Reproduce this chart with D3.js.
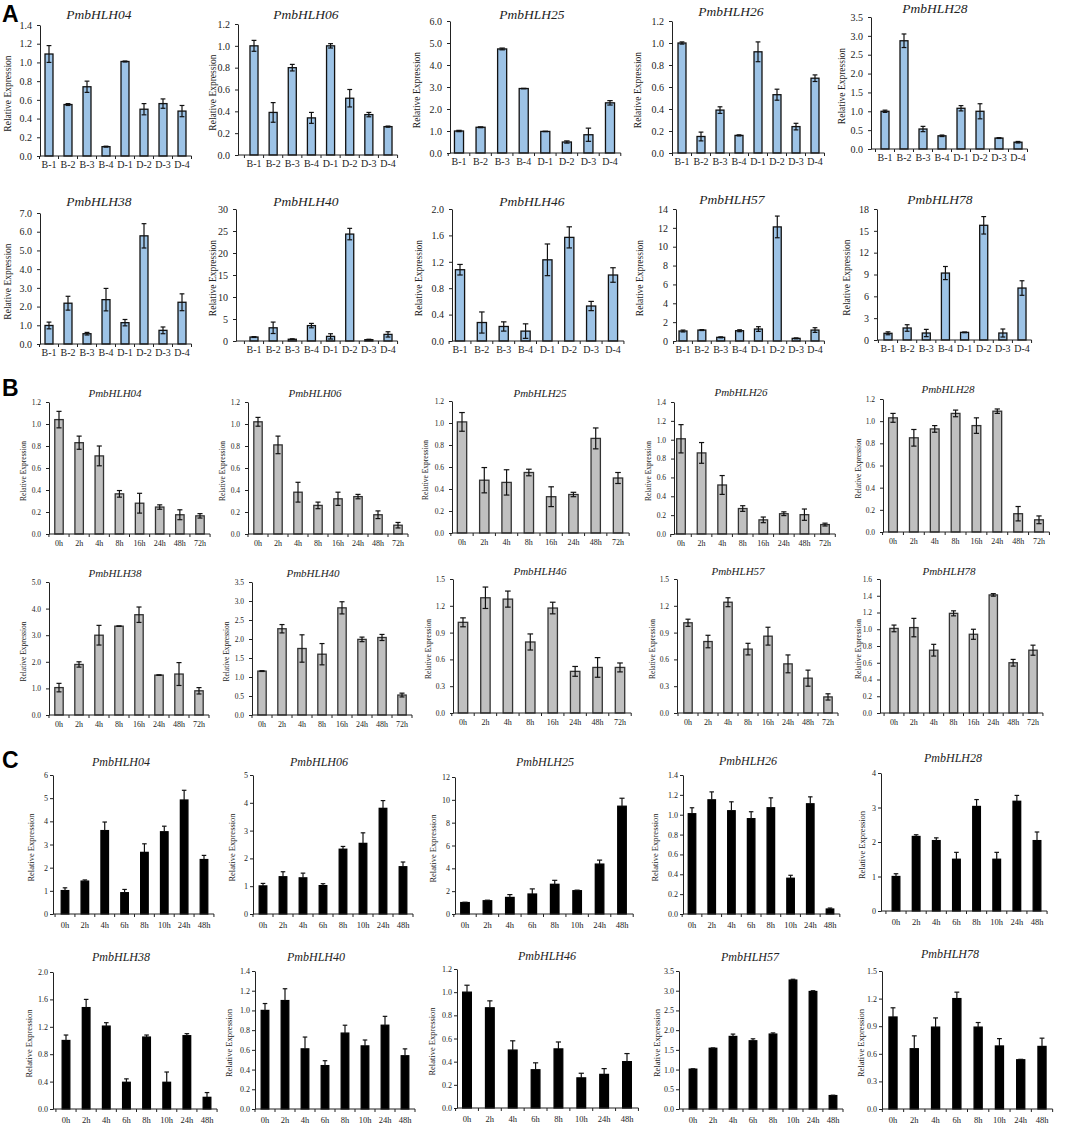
<!DOCTYPE html>
<html lang="en">
<head>
<meta charset="UTF-8">
<title>PmbHLH relative expression</title>
<script src="https://d3js.org/d3.v7.min.js"></script>
<style>
  body { margin: 0; background: #fff; }
  text { font-family: "Liberation Serif", "Times New Roman", "DejaVu Serif", serif; fill: #222; }
</style>
</head>
<body>
<script>
// ---- data ----
const genes = ["PmbHLH04", "PmbHLH06", "PmbHLH25", "PmbHLH26", "PmbHLH28",
               "PmbHLH38", "PmbHLH40", "PmbHLH46", "PmbHLH57", "PmbHLH78"];

const catA = ["B-1", "B-2", "B-3", "B-4", "D-1", "D-2", "D-3", "D-4"];
const catB = ["0h", "2h", "4h", "8h", "16h", "24h", "48h", "72h"];
const catC = ["0h", "2h", "4h", "6h", "8h", "10h", "24h", "48h"];

const valuesA = [
  [1.09, 0.55, 0.74, 0.10, 1.01, 0.50, 0.56, 0.48],
  [1.00, 0.39, 0.80, 0.34, 1.00, 0.52, 0.37, 0.26],
  [1.00, 1.17, 4.73, 2.93, 0.98, 0.50, 0.83, 2.28],
  [1.00, 0.15, 0.39, 0.16, 0.92, 0.53, 0.24, 0.68],
  [1.00, 2.87, 0.53, 0.35, 1.08, 1.00, 0.29, 0.18],
  [0.99, 2.18, 0.55, 2.37, 1.14, 5.78, 0.73, 2.23],
  [0.90, 3.00, 0.40, 3.50, 1.05, 24.3, 0.30, 1.50],
  [1.08, 0.28, 0.22, 0.15, 1.23, 1.57, 0.53, 1.00],
  [1.06, 1.16, 0.39, 1.09, 1.27, 12.1, 0.28, 1.16],
  [0.92, 1.65, 0.96, 9.20, 1.05, 15.76, 0.96, 7.14]
];
const errorsA = [
  [0.09, 0.01, 0.06, 0.005, 0.005, 0.06, 0.05, 0.06],
  [0.05, 0.09, 0.03, 0.05, 0.02, 0.08, 0.02, 0.005],
  [0.03, 0.02, 0.04, 0.01, 0.01, 0.05, 0.30, 0.10],
  [0.01, 0.04, 0.03, 0.005, 0.09, 0.05, 0.03, 0.03],
  [0.03, 0.18, 0.07, 0.02, 0.07, 0.20, 0.01, 0.02],
  [0.18, 0.37, 0.07, 0.60, 0.17, 0.65, 0.18, 0.45],
  [0.10, 1.30, 0.10, 0.50, 0.60, 1.30, 0.10, 0.60],
  [0.08, 0.16, 0.07, 0.11, 0.24, 0.16, 0.07, 0.11],
  [0.10, 0.05, 0.05, 0.10, 0.25, 1.15, 0.05, 0.25],
  [0.20, 0.45, 0.50, 0.90, 0.05, 1.20, 0.55, 1.00]
];
const yMaxA = [1.4, 1.2, 6, 1.2, 3.5, 7, 30, 2, 14, 18];
const yStepA = [0.2, 0.2, 1, 0.2, 0.5, 1, 5, 0.4, 2, 3];
const decA = [1, 1, 1, 1, 1, 1, 0, 1, 0, 0];

const valuesB = [
  [1.04, 0.83, 0.71, 0.365, 0.28, 0.245, 0.175, 0.165],
  [1.02, 0.81, 0.38, 0.26, 0.32, 0.34, 0.175, 0.08],
  [1.01, 0.48, 0.46, 0.55, 0.33, 0.35, 0.86, 0.50],
  [1.01, 0.86, 0.52, 0.27, 0.15, 0.215, 0.205, 0.10],
  [1.03, 0.85, 0.93, 1.07, 0.96, 1.09, 0.165, 0.11],
  [1.03, 1.90, 3.00, 3.34, 3.77, 1.50, 1.54, 0.91],
  [1.155, 2.27, 1.75, 1.60, 2.82, 1.99, 2.04, 0.525],
  [1.015, 1.29, 1.275, 0.795, 1.175, 0.466, 0.51, 0.51],
  [1.01, 0.80, 1.24, 0.715, 0.86, 0.55, 0.39, 0.18],
  [1.01, 1.02, 0.75, 1.19, 0.94, 1.41, 0.60, 0.75]
];
const errorsB = [
  [0.075, 0.06, 0.09, 0.03, 0.09, 0.02, 0.045, 0.02],
  [0.04, 0.08, 0.09, 0.03, 0.06, 0.02, 0.035, 0.025],
  [0.085, 0.115, 0.115, 0.03, 0.09, 0.02, 0.095, 0.05],
  [0.15, 0.11, 0.10, 0.03, 0.03, 0.02, 0.06, 0.015],
  [0.04, 0.075, 0.03, 0.03, 0.07, 0.02, 0.065, 0.035],
  [0.16, 0.10, 0.37, 0.01, 0.29, 0.01, 0.43, 0.12],
  [0.01, 0.11, 0.36, 0.28, 0.16, 0.06, 0.08, 0.05],
  [0.05, 0.12, 0.09, 0.09, 0.065, 0.055, 0.11, 0.05],
  [0.04, 0.07, 0.05, 0.065, 0.10, 0.10, 0.09, 0.035],
  [0.04, 0.11, 0.07, 0.03, 0.06, 0.015, 0.04, 0.06]
];
const yMaxB = [1.2, 1.2, 1.2, 1.4, 1.2, 5, 3.5, 1.5, 1.5, 1.6];
const yStepB = [0.2, 0.2, 0.2, 0.2, 0.2, 1, 0.5, 0.3, 0.3, 0.2];
const decB = [1, 1, 1, 1, 1, 1, 1, 1, 1, 1];

const valuesC = [
  [1.01, 1.42, 3.60, 0.92, 2.66, 3.55, 4.92, 2.35],
  [1.01, 1.34, 1.30, 1.02, 2.33, 2.54, 3.80, 1.70],
  [1.00, 1.16, 1.45, 1.75, 2.60, 2.04, 4.37, 9.44],
  [1.01, 1.15, 1.04, 0.96, 1.07, 0.36, 1.11, 0.05],
  [1.00, 2.16, 2.04, 1.50, 3.03, 1.50, 3.18, 2.04],
  [1.00, 1.48, 1.21, 0.39, 1.05, 0.39, 1.07, 0.17],
  [1.00, 1.10, 0.61, 0.44, 0.77, 0.64, 0.85, 0.54],
  [1.00, 0.865, 0.50, 0.33, 0.51, 0.26, 0.29, 0.40],
  [1.01, 1.54, 1.84, 1.73, 1.90, 3.27, 2.98, 0.34],
  [1.00, 0.655, 0.89, 1.20, 0.89, 0.685, 0.535, 0.68]
];
const errorsC = [
  [0.12, 0.05, 0.37, 0.14, 0.37, 0.24, 0.42, 0.18],
  [0.09, 0.18, 0.17, 0.07, 0.10, 0.38, 0.28, 0.17],
  [0.03, 0.05, 0.25, 0.45, 0.35, 0.05, 0.35, 0.70],
  [0.06, 0.08, 0.09, 0.07, 0.10, 0.03, 0.07, 0.01],
  [0.08, 0.05, 0.08, 0.20, 0.20, 0.20, 0.17, 0.25],
  [0.08, 0.12, 0.05, 0.05, 0.03, 0.15, 0.03, 0.07],
  [0.07, 0.12, 0.12, 0.05, 0.08, 0.06, 0.09, 0.07],
  [0.06, 0.06, 0.08, 0.06, 0.06, 0.04, 0.05, 0.07],
  [0.01, 0.01, 0.06, 0.05, 0.03, 0.02, 0.02, 0.01],
  [0.10, 0.14, 0.10, 0.07, 0.05, 0.08, 0.005, 0.09]
];
const yMaxC = [6, 5, 12, 1.4, 4, 2, 1.4, 1.2, 3.5, 1.5];
const yStepC = [1, 1, 2, 0.2, 1, 0.4, 0.2, 0.2, 0.5, 0.3];
const decC = [0, 0, 0, 1, 0, 1, 1, 1, 1, 1];

// ---- layout: [axisX, firstCatX, lastCatX, yTop, yZero, titleX, titleY, yLabelX] ----
const frameA = [
  [40, 49, 182, 25, 156, 99, 19, 8],
  [238, 254, 388, 24, 155, 306, 19, 213],
  [450, 459, 610, 21, 153, 532, 19, 417],
  [672, 682, 815, 21, 153, 731, 16, 638],
  [871, 885, 1018, 17, 149, 935, 13, 842],
  [40, 49, 182, 213, 344, 99, 206, 8],
  [236, 254, 388, 209, 341, 306, 206, 213],
  [452, 460, 613, 209, 341, 532, 206, 419],
  [676, 683, 815, 209, 341, 732, 204, 640],
  [877, 888, 1022, 209, 340, 940, 204, 847]
];
const frameB = [
  [49, 59, 200, 402, 534, 115, 397, 23],
  [248, 258, 398, 402, 534, 315, 397, 222],
  [452, 462, 618, 401, 533, 540, 397, 425],
  [674, 681, 825, 402, 534, 741, 396, 648],
  [883, 893, 1039, 399, 532, 948, 393, 858],
  [49, 59, 199, 582, 715, 115, 577, 23],
  [252, 262, 402, 582, 715, 313, 577, 226],
  [453, 463, 620, 579, 713, 540, 575, 428],
  [677, 688, 828, 579, 713, 738, 575, 652],
  [880, 894, 1033, 579, 713, 949, 575, 858]
];
const frameC = [
  [53, 65, 204, 775, 914, 121, 766, 31],
  [253, 263, 403, 775, 914, 319, 766, 232],
  [455, 465, 622, 777, 914, 545, 766, 433],
  [683, 692, 830, 775, 914, 748, 765, 655],
  [881, 896, 1037, 773, 911, 953, 762, 862],
  [53, 66, 207, 972, 1109, 121, 961, 29],
  [255, 265, 405, 971, 1109, 316, 961, 229],
  [457, 467, 627, 969, 1108, 547, 960, 432],
  [679, 693, 833, 971, 1109, 750, 961, 657],
  [882, 893, 1042, 971, 1109, 950, 958, 861]
];

const sections = [
  { letter: "A", ly: 22, cats: catA, values: valuesA, errors: errorsA, yMax: yMaxA, yStep: yStepA, dec: decA, frames: frameA,
    fill: "#9dc3e6", stroke: "#111", barW: 0.42, both: true, tickFont: 10, xFont: 10, titleFont: 13.5, labFont: 9.5, xLabDy: 12, pad: 5 },
  { letter: "B", ly: 396, cats: catB, values: valuesB, errors: errorsB, yMax: yMaxB, yStep: yStepB, dec: decB, frames: frameB,
    fill: "#c0c0c0", stroke: "#333", barW: 0.42, both: true, tickFont: 7.5, xFont: 8, titleFont: 11, labFont: 7.5, xLabDy: 12, pad: 5 },
  { letter: "C", ly: 768, cats: catC, values: valuesC, errors: errorsC, yMax: yMaxC, yStep: yStepC, dec: decC, frames: frameC,
    fill: "#000", stroke: "#000", barW: 0.38, both: false, tickFont: 8, xFont: 8.5, titleFont: 12, labFont: 8.5, xLabDy: 14, pad: 2 }
];

const svg = d3.select("body").append("svg")
  .attr("width", 1072)
  .attr("height", 1124);

svg.append("rect").attr("width", 1072).attr("height", 1124).attr("fill", "#fff");

sections.forEach(sec => {
  svg.append("text")
    .attr("x", 2).attr("y", sec.ly)
    .style("font-family", "'Liberation Sans', Arial, sans-serif")
    .style("font-weight", "bold")
    .style("font-size", "23px")
    .style("fill", "#000")
    .text(sec.letter);

  genes.forEach((gene, i) => {
    const [axisX, firstX, lastX, yTop, yZero, titleX, titleY, labX] = sec.frames[i];
    const step = (lastX - firstX) / (sec.cats.length - 1);
    const x = d3.scaleBand().domain(sec.cats)
      .range([firstX - step / 2, lastX + step / 2]).padding(0);
    const y = d3.scaleLinear().domain([0, sec.yMax[i]]).range([yZero, yTop]);
    const g = svg.append("g");

    // title
    g.append("text")
      .attr("x", titleX).attr("y", titleY)
      .attr("text-anchor", "middle")
      .style("font-style", "italic")
      .style("font-size", sec.titleFont + "px")
      .text(gene);

    // y axis title
    g.append("text")
      .attr("transform", `translate(${labX},${(yTop + yZero) / 2 + 3}) rotate(-90)`)
      .attr("text-anchor", "middle")
      .attr("dy", "0.35em")
      .style("font-size", sec.labFont + "px")
      .text("Relative Expression");

    // bars
    const bw = x.bandwidth() * sec.barW;
    const data = sec.cats.map((c, j) => ({ c, v: sec.values[i][j], e: sec.errors[i][j] }));
    g.selectAll("rect.bar").data(data).enter().append("rect")
      .attr("class", "bar")
      .attr("x", d => x(d.c) + x.bandwidth() / 2 - bw / 2)
      .attr("y", d => y(d.v))
      .attr("width", bw)
      .attr("height", d => yZero - y(d.v))
      .attr("fill", sec.fill)
      .attr("stroke", sec.stroke)
      .attr("stroke-width", 1.3);

    // error bars
    const cap = bw * 0.6;
    const eb = g.selectAll("g.err").data(data).enter().append("g")
      .attr("class", "err")
      .attr("stroke", "#111")
      .attr("stroke-width", 1.2);
    eb.append("line")
      .attr("x1", d => x(d.c) + x.bandwidth() / 2)
      .attr("x2", d => x(d.c) + x.bandwidth() / 2)
      .attr("y1", d => y(sec.both ? Math.max(0, d.v - d.e) : d.v))
      .attr("y2", d => y(d.v + d.e));
    eb.append("line")
      .attr("x1", d => x(d.c) + x.bandwidth() / 2 - cap / 2)
      .attr("x2", d => x(d.c) + x.bandwidth() / 2 + cap / 2)
      .attr("y1", d => y(d.v + d.e))
      .attr("y2", d => y(d.v + d.e));
    if (sec.both) {
      eb.append("line")
        .attr("x1", d => x(d.c) + x.bandwidth() / 2 - cap / 2)
        .attr("x2", d => x(d.c) + x.bandwidth() / 2 + cap / 2)
        .attr("y1", d => y(Math.max(0, d.v - d.e)))
        .attr("y2", d => y(Math.max(0, d.v - d.e)));
    }

    // y axis
    const ticks = d3.range(0, sec.yMax[i] + sec.yStep[i] / 2, sec.yStep[i]);
    const ya = g.append("g")
      .attr("transform", `translate(${axisX},0)`)
      .call(d3.axisLeft(y).tickValues(ticks).tickSize(3).tickSizeOuter(0).tickPadding(sec.pad)
        .tickFormat(d3.format(`.${sec.dec[i]}f`)));
    ya.select(".domain").attr("stroke", "#222");
    ya.selectAll(".tick line").attr("stroke", "#222");
    ya.selectAll(".tick text")
      .style("font-family", "'Liberation Serif', 'Times New Roman', serif")
      .style("font-size", sec.tickFont + "px")
      .attr("fill", "#222");

    // x axis
    const xEnd = x.range()[1];
    g.append("line")
      .attr("x1", axisX).attr("x2", xEnd)
      .attr("y1", yZero).attr("y2", yZero)
      .attr("stroke", "#222").attr("stroke-width", 1);
    const bounds = d3.range(sec.cats.length + 1).map(k => x.range()[0] + k * x.step());
    g.selectAll("line.xt").data(bounds).enter().append("line")
      .attr("class", "xt")
      .attr("x1", d => d).attr("x2", d => d)
      .attr("y1", yZero).attr("y2", yZero + 3)
      .attr("stroke", "#222");
    g.selectAll("text.xl").data(sec.cats).enter().append("text")
      .attr("class", "xl")
      .attr("x", d => x(d) + x.bandwidth() / 2)
      .attr("y", yZero + sec.xLabDy)
      .attr("text-anchor", "middle")
      .style("font-size", sec.xFont + "px")
      .text(d => d);
  });
});
</script>
</body>
</html>
